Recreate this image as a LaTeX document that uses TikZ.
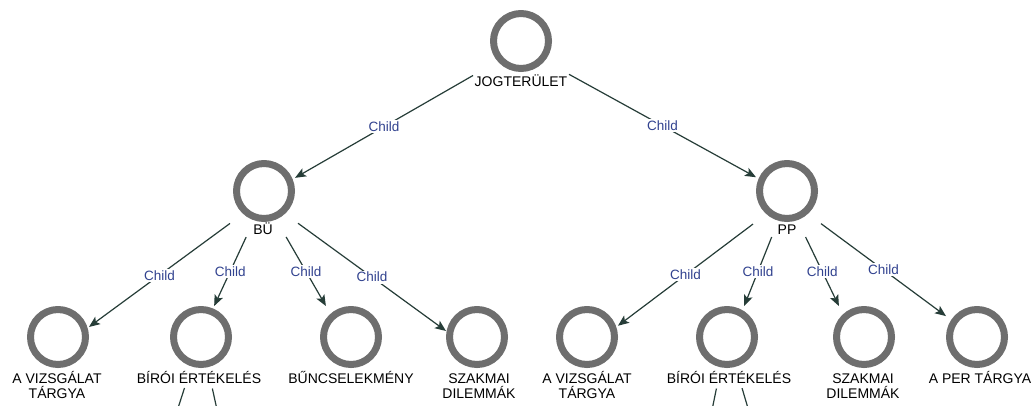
\documentclass[tikz,border=0pt]{standalone}
\usepackage{fontspec}
\setmainfont{Liberation Sans}
\usetikzlibrary{arrows.meta}
\definecolor{ringgray}{HTML}{6E6E6E}
\definecolor{edgecol}{HTML}{263D38}
\definecolor{childblue}{HTML}{31428F}
\begin{document}
\begin{tikzpicture}[x=1pt,y=-1pt,
  ring/.style={rectangle, minimum size=62pt, inner sep=0pt, outer sep=0pt,
    path picture={\draw[ringgray, line width=7pt] (path picture bounding box.center) circle[radius=27.5pt];}},
  grp/.style={rectangle, inner sep=0pt, outer sep=0pt, draw=none},
  lbl/.style={font=\fontsize{14pt}{15pt}\selectfont, text=black, inner sep=0pt, anchor=base, align=center},
  conn/.style={draw=edgecol, line width=1.2pt, -{Stealth[length=11pt,width=9pt,inset=2.5pt]}},
  plain/.style={draw=edgecol, line width=1.2pt, shorten <=21pt},
  rel/.style={font=\fontsize{13.5pt}{14pt}\selectfont, text=childblue, fill=white, inner sep=1.5pt, pos=0.5}
]
\useasboundingbox (0,0) rectangle (1035,405);
\fill[white] (0,0) rectangle (1035,405);
\clip (0,0) rectangle (1035,405);

% root
\node[ring] (root) at (521,41) {};
\node[lbl] (root-t) at (521,86) {JOGTERÜLET};
\node[grp, minimum width=96pt, minimum height=78pt] (root-b) at (521,48) {};

% middle
\node[ring] (bu) at (264,191) {};
\node[lbl] (bu-t) at (263,234.5) {BÜ};
\node[grp, minimum width=68pt, minimum height=77pt] (bu-b) at (264,198.5) {};

\node[ring] (pp) at (787,191) {};
\node[lbl] (pp-t) at (787,234.5) {PP};
\node[grp, minimum width=68pt, minimum height=77pt] (pp-b) at (787,198.5) {};

% bottom left
\node[ring] (l1) at (58,337) {};
\node[lbl] (l1-t) at (57,398.5) {A VIZSGÁLAT\\TÁRGYA};
\node[ring] (l2) at (201,337) {};
\node[lbl] (l2-t) at (199,383.5) {BÍRÓI ÉRTÉKELÉS};
\node[ring] (l3) at (351,337) {};
\node[lbl] (l3-t) at (351,383.5) {BŰNCSELEKMÉNY};
\node[ring] (l4) at (477,337) {};
\node[lbl] (l4-t) at (479,398.5) {SZAKMAI\\DILEMMÁK};

% bottom right
\node[ring] (r1) at (587,337) {};
\node[lbl] (r1-t) at (587,398.5) {A VIZSGÁLAT\\TÁRGYA};
\node[ring] (r2) at (727,337) {};
\node[lbl] (r2-t) at (729,383.5) {BÍRÓI ÉRTÉKELÉS};
\node[ring] (r3) at (864,337) {};
\node[lbl] (r3-t) at (863,398.5) {SZAKMAI\\DILEMMÁK};
\node[ring] (r4) at (977,337) {};
\node[lbl] (r4-t) at (980,383.5) {A PER TÁRGYA};

% connectors
\draw[conn] (root-b) -- node[rel]{Child} (bu.23.4);
\draw[conn] (root-b) -- node[rel]{Child} (pp.156.6);

\draw[conn] (bu-b) -- node[rel]{Child} (l1.18.4);
\draw[conn] (bu-b) -- node[rel]{Child} (l2.67.4);
\draw[conn] (bu-b) -- node[rel]{Child} (l3.129);
\draw[conn] (bu-b) -- node[rel]{Child} (l4.169);

\draw[conn] (pp-b) -- node[rel]{Child} (r1.20);
\draw[conn] (pp-b) -- node[rel]{Child} (r2.61);
\draw[conn] (pp-b) -- node[rel]{Child} (r3.129);
\draw[conn] (pp-b) -- node[rel]{Child} (r4.146);

% lines leaving the picture
\coordinate (l2-x1) at (170.9,430);
\coordinate (l2-x2) at (221.5,430);
\coordinate (r2-x1) at (707.9,430);
\coordinate (r2-x2) at (754.4,430);
\draw[plain] (l2) -- (l2-x1);
\draw[plain] (l2) -- (l2-x2);
\draw[plain] (r2) -- (r2-x1);
\draw[plain] (r2) -- (r2-x2);
\end{tikzpicture}
\end{document}
